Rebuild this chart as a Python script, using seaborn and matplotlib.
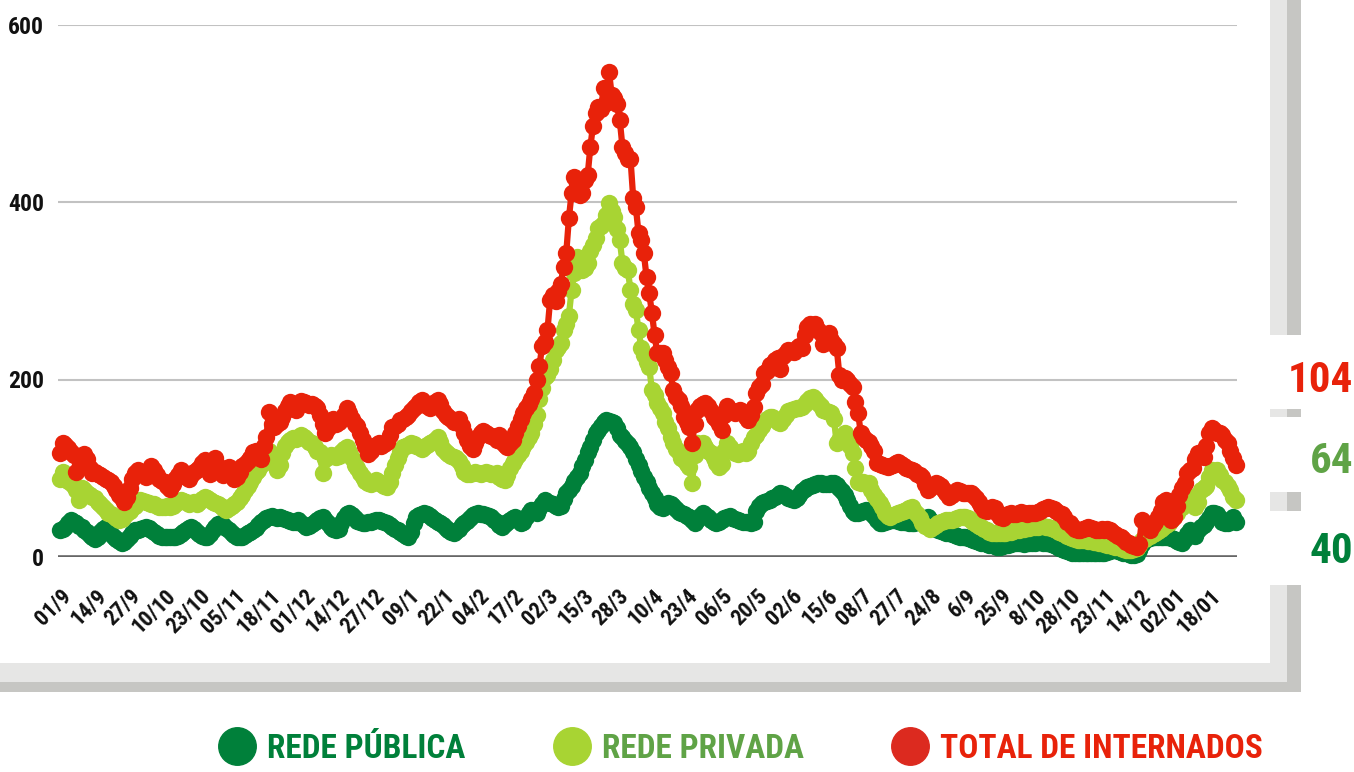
import numpy as np
import pandas as pd
import matplotlib
matplotlib.use("Agg")
import matplotlib.pyplot as plt
import seaborn as sns
from matplotlib import font_manager as fm
from matplotlib.lines import Line2D
from matplotlib.patches import Rectangle
from matplotlib.transforms import ScaledTranslation

# ---------------- data (one value per reported day) ----------------
tick_labels = ["01/9", "14/9", "27/9", "10/10", "23/10", "05/11", "18/11", "01/12", "14/12",
               "27/12", "09/1", "22/1", "04/2", "17/2", "02/3", "15/3", "28/3", "10/4",
               "23/4", "06/5", "20/5", "02/6", "15/6", "08/7", "27/7", "24/8", "6/9",
               "25/9", "8/10", "28/10", "23/11", "14/12", "02/01", "18/01"]
tick_every = 13

total_internados = [
    117, 128, 126, 123, 118, 115, 96, 112, 114, 116, 110, 100, 95,
    96, 93, 92, 90, 88, 87, 84, 80, 76, 70, 66, 62, 68,
    78, 88, 95, 98, 96, 93, 90, 94, 103, 98, 92, 88, 86,
    84, 80, 77, 82, 88, 92, 98, 95, 90, 88, 92, 96, 98,
    100, 106, 109, 100, 94, 104, 111, 102, 96, 92, 98, 101, 94,
    88, 90, 96, 102, 105, 108, 112, 118, 120, 114, 110, 125, 135,
    163, 150, 146, 150, 152, 158, 165, 170, 175, 172, 166, 172, 176,
    175, 173, 171, 172, 170, 168, 160, 150, 140, 145, 152, 156, 150,
    152, 155, 160, 168, 162, 155, 150, 148, 140, 132, 125, 116, 120,
    124, 126, 128, 125, 127, 130, 138, 146, 148, 150, 154, 156, 158,
    160, 164, 168, 170, 175, 177, 173, 170, 168, 172, 175, 177, 172,
    165, 160, 158, 155, 152, 154, 156, 148, 140, 132, 125, 122, 128,
    135, 140, 142, 140, 138, 136, 135, 132, 138, 130, 126, 124, 128,
    132, 140, 148, 155, 162, 168, 172, 178, 185, 200, 215, 238, 242,
    256, 290, 295, 288, 300, 308, 327, 342, 382, 410, 428, 420, 408,
    410, 425, 430, 462, 486, 500, 507, 505, 529, 511, 546, 520, 517,
    510, 492, 462, 455, 449, 449, 405, 394, 365, 357, 342, 315, 297,
    275, 250, 230, 230, 230, 222, 214, 207, 188, 180, 177, 170, 158,
    152, 146, 128, 150, 166, 170, 172, 173, 170, 165, 158, 155, 150,
    143, 160, 170, 166, 164, 162, 165, 166, 163, 158, 154, 160, 169,
    185, 191, 195, 207, 210, 216, 218, 222, 224, 212, 226, 230, 233,
    232, 231, 235, 238, 236, 250, 259, 262, 258, 263, 256, 252, 240,
    248, 252, 245, 240, 236, 205, 200, 202, 199, 195, 191, 175, 162,
    140, 135, 132, 130, 125, 120, 106, 105, 104, 103, 101, 102, 104,
    106, 107, 105, 102, 100, 99, 98, 97, 94, 92, 90, 82, 75,
    78, 80, 83, 82, 80, 76, 72, 68, 70, 73, 75, 74, 72,
    72, 72, 72, 70, 66, 62, 58, 53, 52, 54, 56, 55, 50,
    45, 44, 46, 48, 50, 49, 48, 50, 51, 50, 49, 50, 50,
    50, 51, 52, 54, 55, 56, 55, 54, 52, 50, 48, 45, 40,
    38, 35, 32, 30, 30, 31, 33, 34, 33, 32, 30, 30, 31,
    30, 31, 30, 28, 26, 24, 23, 20, 17, 16, 14, 12, 11,
    15, 42, 38, 34, 30, 36, 40, 45, 52, 62, 64, 50, 42,
    45, 58, 70, 78, 83, 95, 98, 100, 110, 117, 115, 113, 125,
    140, 145, 143, 140, 140, 138, 132, 128, 120, 112, 104,
]

rede_privada = [
    88, 96, 92, 86, 83, 80, 76, 64, 78, 76, 72, 70, 68,
    66, 62, 60, 56, 53, 50, 48, 46, 44, 42, 43, 46, 50,
    52, 55, 58, 62, 64, 63, 62, 61, 60, 60, 58, 56, 56,
    56, 57, 56, 58, 60, 62, 64, 63, 62, 60, 61, 62, 60,
    62, 65, 68, 66, 64, 62, 61, 60, 58, 55, 53, 55, 57,
    60, 62, 66, 70, 75, 80, 85, 90, 96, 98, 104, 110, 116,
    120, 112, 105, 98, 104, 117, 125, 130, 132, 134, 133, 135, 137,
    135, 133, 130, 128, 124, 120, 118, 95, 110, 113, 115, 114, 113,
    114, 118, 122, 124, 118, 112, 104, 100, 95, 90, 86, 83, 82,
    84, 87, 85, 82, 80, 79, 84, 95, 104, 112, 118, 124, 125,
    126, 128, 127, 125, 124, 122, 124, 126, 128, 130, 132, 135, 130,
    122, 118, 116, 114, 113, 112, 108, 102, 96, 94, 93, 95, 96,
    95, 94, 95, 96, 95, 93, 94, 95, 90, 88, 87, 92, 100,
    106, 110, 115, 120, 125, 130, 135, 140, 150, 160, 178, 190, 203,
    205, 212, 222, 233, 237, 241, 256, 262, 272, 301, 320, 338, 330,
    323, 326, 331, 345, 352, 360, 371, 373, 376, 385, 399, 390, 383,
    370, 357, 331, 326, 323, 301, 285, 278, 256, 236, 228, 220, 214,
    188, 182, 173, 168, 162, 152, 145, 135, 128, 122, 118, 112, 109,
    105, 101, 83, 115, 128, 126, 128, 124, 120, 117, 112, 106, 101,
    105, 120, 128, 124, 120, 117, 116, 118, 120, 117, 120, 128, 135,
    138, 143, 148, 152, 156, 158, 158, 156, 152, 151, 156, 160, 165,
    166, 167, 168, 168, 169, 172, 176, 179, 180, 178, 174, 170, 166,
    164, 163, 162, 155, 128, 132, 136, 140, 135, 125, 117, 100, 85,
    83, 84, 83, 83, 76, 70, 65, 61, 56, 50, 46, 45, 47,
    49, 50, 51, 52, 53, 55, 56, 52, 48, 44, 38, 35, 34,
    32, 34, 36, 38, 40, 41, 42, 42, 42, 43, 44, 45, 45,
    45, 44, 42, 40, 37, 35, 34, 32, 30, 28, 27, 27, 27,
    27, 27, 27, 28, 28, 29, 30, 30, 31, 32, 33, 33, 34,
    34, 34, 35, 35, 34, 34, 33, 32, 30, 28, 27, 26, 24,
    22, 21, 20, 19, 19, 19, 19, 18, 18, 17, 17, 16, 16,
    15, 14, 13, 12, 11, 11, 10, 9, 8, 8, 8, 9, 10,
    14, 19, 20, 22, 24, 26, 27, 29, 31, 34, 36, 38, 42,
    46, 50, 54, 56, 60, 64, 68, 60, 56, 62, 75, 78, 80,
    90, 98, 96, 98, 92, 87, 85, 80, 75, 68, 64,
]

rede_publica = [
    30, 32, 34, 38, 42, 40, 38, 35, 34, 30, 28, 25, 22,
    20, 22, 28, 32, 34, 30, 26, 22, 20, 18, 16, 17, 20,
    24, 27, 30, 30, 31, 33, 34, 33, 30, 28, 26, 24, 23,
    22, 22, 23, 22, 22, 24, 26, 28, 30, 33, 34, 32, 28,
    26, 24, 22, 23, 26, 30, 34, 37, 38, 36, 33, 30, 27,
    25, 23, 22, 23, 25, 27, 28, 30, 33, 36, 40, 42, 44,
    45, 46, 45, 44, 45, 44, 43, 42, 41, 40, 40, 42, 38,
    36, 34, 35, 37, 40, 42, 44, 45, 42, 38, 34, 31, 30,
    32, 38, 44, 48, 50, 47, 44, 41, 39, 38, 38, 39, 40,
    41, 42, 42, 41, 40, 38, 36, 34, 32, 30, 28, 26, 24,
    23, 28, 38, 45, 47, 49, 50, 48, 46, 44, 42, 40, 38,
    36, 33, 30, 28, 27, 29, 32, 36, 38, 41, 44, 47, 49,
    50, 49, 48, 47, 46, 45, 42, 39, 36, 34, 37, 40, 42,
    44, 45, 42, 38, 40, 45, 50, 53, 51, 50, 55, 60, 64,
    62, 61, 60, 58, 56, 58, 65, 72, 75, 80, 86, 90, 95,
    102, 109, 118, 124, 132, 140, 143, 148, 152, 154, 153, 152, 151,
    145, 138, 135, 131, 127, 124, 118, 110, 104, 97, 90, 84, 78,
    72, 66, 60, 56, 55, 58, 61, 60, 57, 54, 51, 50, 48,
    46, 45, 42, 38, 42, 46, 50, 47, 45, 42, 40, 38, 40,
    42, 44, 45, 46, 44, 43, 42, 41, 40, 40, 39, 38, 40,
    52, 58, 61, 62, 63, 64, 66, 68, 70, 72, 71, 69, 67,
    65, 64, 66, 70, 74, 77, 79, 80, 81, 82, 83, 83, 82,
    82, 82, 83, 83, 81, 78, 74, 70, 64, 58, 52, 50, 50,
    51, 52, 53, 52, 50, 46, 42, 38, 38, 40, 41, 42, 42,
    42, 41, 40, 40, 39, 38, 38, 38, 39, 40, 42, 44, 45,
    42, 36, 32, 30, 29, 28, 27, 27, 26, 25, 24, 23, 22,
    22, 21, 20, 19, 18, 17, 16, 16, 15, 14, 13, 12, 11,
    11, 12, 13, 14, 15, 16, 16, 16, 16, 15, 16, 16, 16,
    16, 17, 17, 16, 16, 16, 15, 14, 12, 10, 9, 8, 7,
    6, 5, 4, 4, 4, 5, 5, 4, 4, 4, 4, 4, 4,
    5, 6, 7, 8, 8, 7, 6, 5, 4, 3, 2, 2, 3,
    8, 15, 19, 20, 21, 22, 22, 22, 22, 22, 22, 22, 21,
    20, 18, 17, 16, 20, 26, 30, 28, 24, 30, 34, 36, 40,
    44, 50, 50, 48, 44, 40, 38, 38, 42, 45, 40,
]

series_names = ["REDE PÚBLICA", "REDE PRIVADA", "TOTAL DE INTERNADOS"]
series_colors = ["#00803a", "#a8d433", "#e8220a"]
legend_text_colors = ["#00803a", "#5fa346", "#e8220a"]
legend_dot_colors = ["#00803a", "#a8d433", "#dc2a1f"]

# ---------------- style ----------------
sns.set_theme(style="white")
names = {f.name for f in fm.fontManager.ttflist}
COND = next((n for n in ["Liberation Sans Narrow", "Roboto Condensed", "DejaVu Sans"] if n in names),
            "DejaVu Sans")
plt.rcParams["font.family"] = [COND, "DejaVu Sans"]
plt.rcParams["font.weight"] = "bold"

W, H = 1354, 772
fig = plt.figure(figsize=(W / 100, H / 100), dpi=100)
fig.patch.set_facecolor("white")


def fx(px):
    return px / W


def fy(py):
    return 1 - py / H


# decorative frame (light band + darker shadow), broken on the right for the numbers
def rect(x0, y0, x1, y1, color):
    fig.add_artist(Rectangle((fx(x0), fy(y1)), fx(x1) - fx(x0), (y1 - y0) / H,
                             transform=fig.transFigure, color=color, lw=0, zorder=0))


rect(0, 682, 1301, 692, "#c6c6c3")
rect(0, 663, 1287, 682, "#e6e6e5")
for y0, y1 in [(0, 335), (409, 417), (492, 511), (585, 692)]:
    rect(1287, y0, 1301, y1, "#c6c6c3")
for y0, y1 in [(0, 335), (409, 417), (492, 511), (585, 682)]:
    rect(1270, y0, 1287, y1, "#e6e6e5")

# ---------------- main axes ----------------
ax = fig.add_axes([fx(58), fy(557), fx(1237) - fx(58), fy(24.5) - fy(557)])
ax.set_facecolor("none")

n = len(total_internados)
idx = np.arange(n)
df = pd.DataFrame({
    "dia": np.concatenate([idx, idx, idx]),
    "internados": rede_publica + rede_privada + total_internados,
    "serie": [series_names[0]] * n + [series_names[1]] * n + [series_names[2]] * n,
})

sns.lineplot(data=df, x="dia", y="internados", hue="serie", hue_order=series_names,
             palette=series_colors, marker="o", markersize=12.5, markeredgewidth=0,
             linewidth=4.5, estimator=None, errorbar=None, legend=False, ax=ax,
             clip_on=False, zorder=3)

ax.set_xlim(-0.8, 439.5)
ax.set_ylim(0, 600)
ax.set_yticks([0, 200, 400, 600])
ax.set_yticklabels(["0", "200", "400", "600"], fontsize=17, fontweight="bold", color="#111111")
ax.grid(axis="y", color="#c2c2c2", lw=1.5)
ax.grid(axis="x", visible=False)
ax.set_axisbelow(True)
ax.axhline(0, color="#666666", lw=2.6, zorder=1.5)
for s in ax.spines.values():
    s.set_visible(False)
ax.tick_params(axis="y", length=0, pad=10)
ax.set_xlabel("")
ax.set_ylabel("")

ticks = np.arange(len(tick_labels)) * tick_every
ax.set_xticks(ticks)
ax.set_xticklabels(tick_labels, rotation=45, ha="right", va="center",
                   rotation_mode="anchor", fontsize=16, fontweight="bold", color="#111111")
ax.tick_params(axis="x", length=0, pad=26)
offset = ScaledTranslation(8 / 100, 0, fig.dpi_scale_trans)
for lab in ax.get_xticklabels():
    lab.set_transform(lab.get_transform() + offset)

# ---------------- last values on the right ----------------
fig.text(fx(1353), fy(392), str(total_internados[-1]), ha="right", va="baseline",
         fontsize=31, fontweight="bold", color="#e8220a")
fig.text(fx(1353), fy(473), str(rede_privada[-1]), ha="right", va="baseline",
         fontsize=31, fontweight="bold", color="#5fa346")
fig.text(fx(1353), fy(563), str(rede_publica[-1]), ha="right", va="baseline",
         fontsize=31, fontweight="bold", color="#00803a")

# ---------------- legend ----------------
handles = [Line2D([0], [0], marker="o", ls="none", ms=27, color=c, mec=c) for c in legend_dot_colors]
fig.legend(handles, series_names, loc="center", bbox_to_anchor=(fx(740), fy(749)), ncol=3,
           frameon=False, prop={"weight": "bold", "size": 24}, handlelength=1.2,
           handletextpad=0.3, columnspacing=2.6, labelcolor=legend_text_colors,
           borderpad=0, borderaxespad=0)

fig.savefig("out.png", dpi=100, facecolor="white")
